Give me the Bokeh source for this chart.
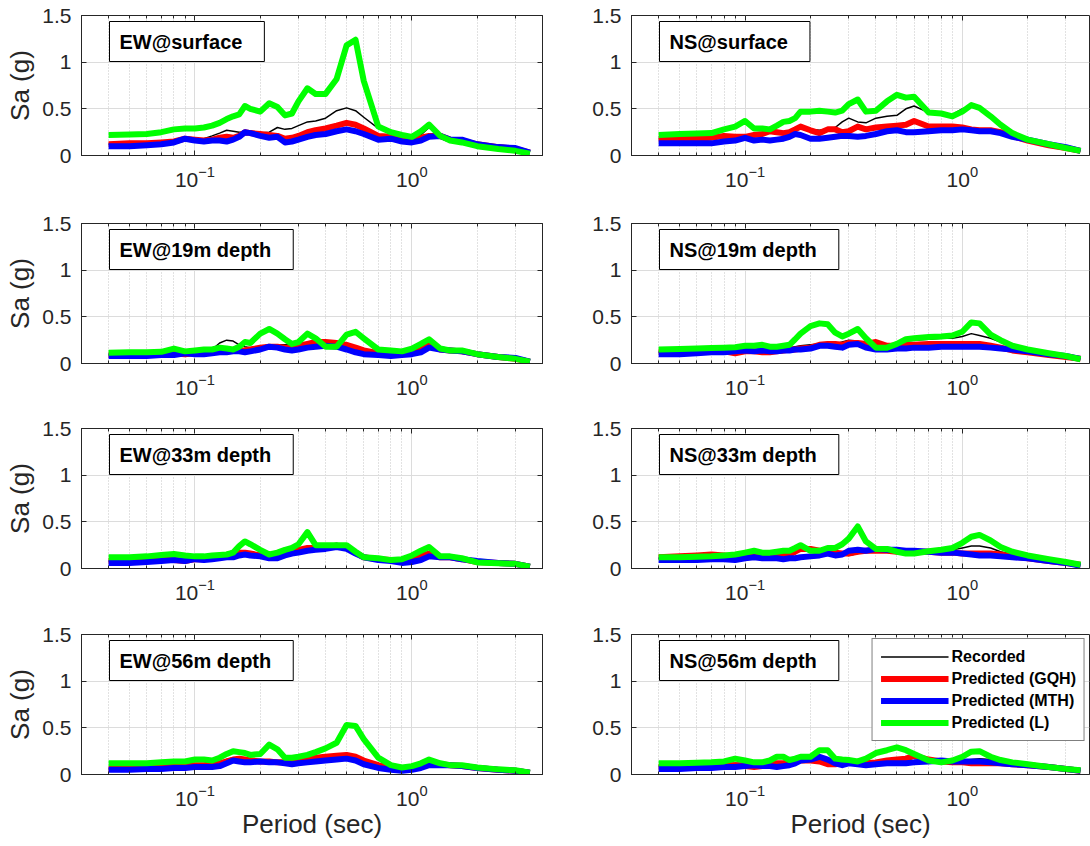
from bokeh.plotting import figure
from bokeh.layouts import column, row
from bokeh.models import (Range1d, FixedTicker, Label, Legend, LegendItem, LogAxis,
                          LinearAxis, NumeralTickFormatter, CustomJSTickFormatter)
from bokeh.embed import file_html
from bokeh.resources import INLINE

# Oscillator period (s)
period = [0.04, 0.05, 0.06, 0.07, 0.08, 0.09,
          0.10, 0.11, 0.12, 0.13, 0.14, 0.15, 0.16, 0.17, 0.18,
          0.20, 0.22, 0.24, 0.26, 0.28,
          0.30, 0.33, 0.36, 0.40, 0.45, 0.50, 0.55,
          0.60, 0.70, 0.80, 0.90,
          1.00, 1.10, 1.20, 1.35, 1.50, 1.70, 2.00, 2.50, 3.00, 3.50]

# --- EW @ surface ---
rec_ew_surf = [0.12, 0.13, 0.13, 0.14, 0.15, 0.17, 0.17, 0.18, 0.21, 0.24, 0.27, 0.26, 0.25, 0.25, 0.25,
               0.24, 0.25, 0.30, 0.28, 0.29, 0.32, 0.36, 0.37, 0.40, 0.48, 0.51, 0.48,
               0.41, 0.29, 0.25, 0.21, 0.19, 0.22, 0.30, 0.21, 0.17, 0.15, 0.11, 0.08, 0.06, 0.03]
gqh_ew_surf = [0.12, 0.13, 0.13, 0.14, 0.15, 0.18, 0.17, 0.16, 0.17, 0.19, 0.20, 0.19, 0.21, 0.25, 0.24,
               0.23, 0.22, 0.21, 0.18, 0.19, 0.21, 0.25, 0.27, 0.29, 0.32, 0.35, 0.33,
               0.29, 0.21, 0.20, 0.17, 0.17, 0.19, 0.21, 0.21, 0.17, 0.16, 0.12, 0.09, 0.07, 0.03]
mth_ew_surf = [0.10, 0.10, 0.11, 0.12, 0.14, 0.18, 0.16, 0.15, 0.16, 0.16, 0.15, 0.17, 0.20, 0.25, 0.24,
               0.21, 0.19, 0.20, 0.14, 0.15, 0.17, 0.20, 0.22, 0.23, 0.26, 0.28, 0.26,
               0.23, 0.17, 0.18, 0.15, 0.14, 0.16, 0.20, 0.21, 0.17, 0.17, 0.12, 0.09, 0.08, 0.03]
lin_ew_surf = [0.22, 0.225, 0.23, 0.25, 0.28, 0.29, 0.29, 0.30, 0.32, 0.35, 0.39, 0.42, 0.44, 0.53, 0.50,
               0.47, 0.56, 0.52, 0.43, 0.45, 0.58, 0.72, 0.66, 0.66, 0.82, 1.18, 1.24,
               0.80, 0.31, 0.25, 0.22, 0.20, 0.26, 0.33, 0.21, 0.16, 0.14, 0.10, 0.07, 0.05, 0.02]

# --- NS @ surface ---
rec_ns_surf = [0.18, 0.18, 0.19, 0.20, 0.21, 0.21, 0.21, 0.22, 0.24, 0.25, 0.24, 0.25, 0.26, 0.27, 0.30,
               0.28, 0.27, 0.28, 0.30, 0.36, 0.40, 0.36, 0.35, 0.40, 0.42, 0.43, 0.50,
               0.53, 0.46, 0.45, 0.44, 0.50, 0.52, 0.50, 0.42, 0.33, 0.24, 0.17, 0.12, 0.08, 0.05]
gqh_ns_surf = [0.18, 0.18, 0.18, 0.19, 0.21, 0.20, 0.20, 0.22, 0.23, 0.26, 0.25, 0.24, 0.25, 0.28, 0.31,
               0.27, 0.24, 0.28, 0.28, 0.25, 0.26, 0.31, 0.28, 0.30, 0.31, 0.32, 0.33,
               0.37, 0.31, 0.31, 0.31, 0.30, 0.28, 0.27, 0.27, 0.25, 0.21, 0.16, 0.11, 0.08, 0.05]
mth_ns_surf = [0.13, 0.13, 0.13, 0.13, 0.15, 0.16, 0.19, 0.16, 0.17, 0.16, 0.17, 0.18, 0.20, 0.23, 0.22,
               0.18, 0.18, 0.19, 0.20, 0.21, 0.21, 0.20, 0.21, 0.23, 0.26, 0.27, 0.25,
               0.25, 0.26, 0.27, 0.27, 0.28, 0.27, 0.26, 0.26, 0.24, 0.20, 0.17, 0.12, 0.09, 0.05]
lin_ns_surf = [0.22, 0.23, 0.235, 0.24, 0.28, 0.31, 0.37, 0.29, 0.29, 0.28, 0.32, 0.36, 0.37, 0.40, 0.47,
               0.47, 0.48, 0.47, 0.46, 0.48, 0.55, 0.60, 0.47, 0.48, 0.58, 0.65, 0.62,
               0.63, 0.46, 0.45, 0.42, 0.47, 0.54, 0.51, 0.42, 0.33, 0.24, 0.17, 0.12, 0.08, 0.05]

# --- EW @ 19 m ---
rec_ew_19 = [0.09, 0.10, 0.10, 0.11, 0.12, 0.12, 0.12, 0.13, 0.15, 0.22, 0.25, 0.24, 0.20, 0.18, 0.17,
             0.18, 0.20, 0.20, 0.20, 0.21, 0.20, 0.22, 0.22, 0.23, 0.22, 0.20, 0.17,
             0.15, 0.12, 0.12, 0.11, 0.13, 0.17, 0.20, 0.15, 0.14, 0.13, 0.10, 0.07, 0.05, 0.02]
gqh_ew_19 = [0.09, 0.09, 0.10, 0.10, 0.11, 0.10, 0.11, 0.11, 0.12, 0.13, 0.14, 0.14, 0.14, 0.14, 0.15,
             0.17, 0.18, 0.18, 0.17, 0.17, 0.19, 0.21, 0.23, 0.23, 0.22, 0.20, 0.17,
             0.14, 0.11, 0.11, 0.11, 0.13, 0.16, 0.20, 0.15, 0.14, 0.13, 0.10, 0.07, 0.05, 0.02]
mth_ew_19 = [0.08, 0.08, 0.08, 0.09, 0.09, 0.11, 0.10, 0.10, 0.11, 0.12, 0.12, 0.13, 0.13, 0.12, 0.13,
             0.15, 0.18, 0.17, 0.15, 0.14, 0.15, 0.17, 0.18, 0.19, 0.18, 0.15, 0.12,
             0.10, 0.09, 0.08, 0.09, 0.10, 0.12, 0.17, 0.15, 0.14, 0.13, 0.10, 0.07, 0.06, 0.02]
lin_ew_19 = [0.115, 0.12, 0.12, 0.125, 0.16, 0.13, 0.14, 0.15, 0.15, 0.17, 0.16, 0.15, 0.18, 0.23, 0.22,
             0.32, 0.37, 0.32, 0.26, 0.21, 0.23, 0.32, 0.27, 0.18, 0.18, 0.31, 0.34,
             0.27, 0.15, 0.14, 0.13, 0.16, 0.21, 0.26, 0.16, 0.14, 0.14, 0.10, 0.07, 0.05, 0.02]

# --- NS @ 19 m ---
rec_ns_19 = [0.12, 0.12, 0.13, 0.13, 0.14, 0.13, 0.14, 0.14, 0.15, 0.15, 0.15, 0.16, 0.17, 0.18, 0.19,
             0.20, 0.21, 0.21, 0.21, 0.23, 0.25, 0.24, 0.20, 0.19, 0.19, 0.22, 0.24,
             0.25, 0.26, 0.27, 0.27, 0.29, 0.32, 0.30, 0.27, 0.23, 0.18, 0.14, 0.10, 0.08, 0.05]
gqh_ns_19 = [0.12, 0.13, 0.13, 0.15, 0.13, 0.11, 0.13, 0.13, 0.12, 0.12, 0.13, 0.14, 0.15, 0.15, 0.16,
             0.17, 0.20, 0.21, 0.21, 0.20, 0.22, 0.22, 0.21, 0.23, 0.19, 0.19, 0.20,
             0.20, 0.21, 0.21, 0.21, 0.21, 0.21, 0.21, 0.19, 0.17, 0.14, 0.12, 0.09, 0.07, 0.05]
mth_ns_19 = [0.10, 0.10, 0.11, 0.12, 0.12, 0.13, 0.14, 0.13, 0.14, 0.13, 0.13, 0.14, 0.14, 0.15, 0.15,
             0.16, 0.19, 0.19, 0.18, 0.17, 0.20, 0.21, 0.17, 0.15, 0.15, 0.16, 0.16,
             0.17, 0.17, 0.18, 0.18, 0.18, 0.18, 0.18, 0.17, 0.16, 0.15, 0.13, 0.10, 0.08, 0.05]
lin_ns_19 = [0.15, 0.155, 0.16, 0.165, 0.17, 0.175, 0.19, 0.19, 0.20, 0.18, 0.18, 0.19, 0.20, 0.26, 0.32,
             0.40, 0.43, 0.42, 0.33, 0.29, 0.32, 0.37, 0.27, 0.17, 0.17, 0.21, 0.26,
             0.27, 0.285, 0.29, 0.30, 0.34, 0.44, 0.43, 0.31, 0.25, 0.19, 0.15, 0.11, 0.08, 0.045]

# --- EW @ 33 m ---
rec_ew_33 = [0.08, 0.08, 0.09, 0.10, 0.10, 0.10, 0.10, 0.11, 0.12, 0.14, 0.17, 0.19, 0.18, 0.17, 0.16,
             0.14, 0.13, 0.14, 0.16, 0.18, 0.20, 0.22, 0.23, 0.25, 0.27, 0.24, 0.18,
             0.13, 0.10, 0.09, 0.08, 0.11, 0.15, 0.16, 0.12, 0.12, 0.10, 0.07, 0.05, 0.05, 0.02]
gqh_ew_33 = [0.08, 0.08, 0.09, 0.09, 0.09, 0.08, 0.10, 0.10, 0.11, 0.12, 0.13, 0.15, 0.17, 0.17, 0.16,
             0.14, 0.12, 0.13, 0.15, 0.18, 0.20, 0.22, 0.22, 0.23, 0.24, 0.23, 0.17,
             0.12, 0.10, 0.09, 0.08, 0.10, 0.14, 0.16, 0.12, 0.12, 0.10, 0.07, 0.06, 0.05, 0.02]
mth_ew_33 = [0.06, 0.06, 0.07, 0.08, 0.09, 0.08, 0.10, 0.09, 0.10, 0.11, 0.12, 0.12, 0.14, 0.15, 0.14,
             0.13, 0.11, 0.11, 0.14, 0.16, 0.17, 0.19, 0.20, 0.21, 0.23, 0.21, 0.16,
             0.12, 0.09, 0.08, 0.06, 0.07, 0.09, 0.13, 0.12, 0.12, 0.10, 0.08, 0.06, 0.05, 0.02]
lin_ew_33 = [0.12, 0.12, 0.13, 0.145, 0.155, 0.14, 0.13, 0.13, 0.14, 0.145, 0.15, 0.17, 0.24, 0.29, 0.26,
             0.20, 0.15, 0.17, 0.20, 0.22, 0.26, 0.39, 0.25, 0.25, 0.25, 0.25, 0.18,
             0.12, 0.11, 0.09, 0.10, 0.14, 0.19, 0.23, 0.13, 0.13, 0.11, 0.065, 0.055, 0.05, 0.02]

# --- NS @ 33 m ---
rec_ns_33 = [0.11, 0.12, 0.12, 0.13, 0.13, 0.13, 0.14, 0.15, 0.15, 0.15, 0.15, 0.16, 0.17, 0.19, 0.21,
             0.21, 0.19, 0.18, 0.16, 0.15, 0.14, 0.16, 0.18, 0.19, 0.19, 0.18, 0.18,
             0.18, 0.18, 0.19, 0.20, 0.22, 0.24, 0.24, 0.22, 0.18, 0.15, 0.13, 0.10, 0.07, 0.04]
gqh_ns_33 = [0.12, 0.13, 0.14, 0.15, 0.14, 0.13, 0.14, 0.15, 0.14, 0.13, 0.14, 0.14, 0.15, 0.18, 0.21,
             0.21, 0.19, 0.18, 0.17, 0.16, 0.16, 0.18, 0.19, 0.19, 0.19, 0.18, 0.18,
             0.18, 0.18, 0.17, 0.17, 0.16, 0.16, 0.16, 0.16, 0.15, 0.13, 0.11, 0.08, 0.06, 0.04]
mth_ns_33 = [0.09, 0.09, 0.09, 0.10, 0.10, 0.09, 0.11, 0.12, 0.11, 0.11, 0.11, 0.10, 0.11, 0.11, 0.12,
             0.13, 0.14, 0.16, 0.14, 0.15, 0.19, 0.20, 0.19, 0.21, 0.20, 0.20, 0.19,
             0.19, 0.18, 0.17, 0.17, 0.16, 0.15, 0.14, 0.14, 0.13, 0.12, 0.11, 0.08, 0.06, 0.03]
lin_ns_33 = [0.12, 0.12, 0.125, 0.13, 0.14, 0.15, 0.17, 0.19, 0.17, 0.17, 0.18, 0.19, 0.19, 0.22, 0.25,
             0.19, 0.19, 0.22, 0.22, 0.26, 0.32, 0.45, 0.29, 0.21, 0.21, 0.18, 0.16,
             0.16, 0.185, 0.20, 0.22, 0.275, 0.34, 0.36, 0.30, 0.23, 0.18, 0.14, 0.10, 0.07, 0.04]

# --- EW @ 56 m ---
rec_ew_56 = [0.06, 0.06, 0.07, 0.08, 0.09, 0.09, 0.10, 0.11, 0.12, 0.13, 0.16, 0.18, 0.18, 0.16, 0.15,
             0.14, 0.14, 0.14, 0.14, 0.13, 0.14, 0.16, 0.19, 0.21, 0.21, 0.20, 0.18,
             0.14, 0.10, 0.07, 0.06, 0.07, 0.10, 0.13, 0.11, 0.10, 0.09, 0.07, 0.05, 0.04, 0.02]
gqh_ew_56 = [0.06, 0.06, 0.07, 0.08, 0.09, 0.09, 0.10, 0.10, 0.11, 0.12, 0.14, 0.16, 0.17, 0.16, 0.15,
             0.14, 0.14, 0.13, 0.13, 0.13, 0.14, 0.16, 0.18, 0.19, 0.20, 0.21, 0.19,
             0.15, 0.10, 0.07, 0.06, 0.07, 0.10, 0.13, 0.11, 0.10, 0.09, 0.07, 0.05, 0.04, 0.02]
mth_ew_56 = [0.05, 0.05, 0.06, 0.06, 0.07, 0.07, 0.08, 0.08, 0.08, 0.09, 0.12, 0.15, 0.14, 0.13, 0.13,
             0.14, 0.13, 0.13, 0.12, 0.11, 0.12, 0.13, 0.14, 0.15, 0.16, 0.17, 0.15,
             0.11, 0.07, 0.05, 0.04, 0.05, 0.07, 0.10, 0.10, 0.10, 0.09, 0.07, 0.05, 0.04, 0.02]
lin_ew_56 = [0.12, 0.12, 0.12, 0.13, 0.14, 0.14, 0.16, 0.16, 0.15, 0.18, 0.22, 0.25, 0.24, 0.23, 0.21,
             0.22, 0.32, 0.27, 0.18, 0.18, 0.19, 0.21, 0.24, 0.28, 0.34, 0.53, 0.52,
             0.38, 0.18, 0.10, 0.075, 0.09, 0.12, 0.16, 0.12, 0.10, 0.10, 0.075, 0.055, 0.045, 0.02]

# --- NS @ 56 m ---
rec_ns_56 = [0.09, 0.09, 0.10, 0.10, 0.11, 0.12, 0.12, 0.11, 0.11, 0.12, 0.13, 0.13, 0.14, 0.15, 0.16,
             0.16, 0.18, 0.17, 0.14, 0.16, 0.17, 0.14, 0.13, 0.14, 0.15, 0.15, 0.17,
             0.18, 0.16, 0.15, 0.14, 0.15, 0.16, 0.17, 0.16, 0.14, 0.13, 0.11, 0.08, 0.06, 0.04]
gqh_ns_56 = [0.08, 0.08, 0.09, 0.09, 0.10, 0.10, 0.09, 0.08, 0.09, 0.11, 0.12, 0.12, 0.13, 0.14, 0.15,
             0.15, 0.14, 0.11, 0.11, 0.12, 0.13, 0.13, 0.12, 0.13, 0.15, 0.16, 0.17,
             0.20, 0.16, 0.14, 0.13, 0.13, 0.12, 0.12, 0.12, 0.12, 0.11, 0.10, 0.08, 0.06, 0.04]
mth_ns_56 = [0.06, 0.06, 0.07, 0.07, 0.08, 0.08, 0.09, 0.10, 0.09, 0.09, 0.08, 0.09, 0.10, 0.12, 0.15,
             0.16, 0.19, 0.16, 0.12, 0.10, 0.12, 0.11, 0.10, 0.11, 0.12, 0.12, 0.12,
             0.13, 0.14, 0.15, 0.14, 0.14, 0.14, 0.14, 0.13, 0.12, 0.11, 0.10, 0.08, 0.06, 0.04]
lin_ns_56 = [0.12, 0.12, 0.125, 0.13, 0.14, 0.17, 0.15, 0.13, 0.13, 0.15, 0.19, 0.19, 0.155, 0.17, 0.19,
             0.19, 0.26, 0.26, 0.17, 0.16, 0.155, 0.14, 0.17, 0.23, 0.26, 0.29, 0.26,
             0.22, 0.15, 0.13, 0.15, 0.19, 0.245, 0.25, 0.19, 0.155, 0.13, 0.11, 0.08, 0.06, 0.045]

panel_titles = [["EW@surface", "NS@surface"],
                ["EW@19m depth", "NS@19m depth"],
                ["EW@33m depth", "NS@33m depth"],
                ["EW@56m depth", "NS@56m depth"]]
panel_data = [[(rec_ew_surf, gqh_ew_surf, mth_ew_surf, lin_ew_surf),
               (rec_ns_surf, gqh_ns_surf, mth_ns_surf, lin_ns_surf)],
              [(rec_ew_19, gqh_ew_19, mth_ew_19, lin_ew_19),
               (rec_ns_19, gqh_ns_19, mth_ns_19, lin_ns_19)],
              [(rec_ew_33, gqh_ew_33, mth_ew_33, lin_ew_33),
               (rec_ns_33, gqh_ns_33, mth_ns_33, lin_ns_33)],
              [(rec_ew_56, gqh_ew_56, mth_ew_56, lin_ew_56),
               (rec_ns_56, gqh_ns_56, mth_ns_56, lin_ns_56)]]

series_names = ["Recorded", "Predicted (GQH)", "Predicted (MTH)", "Predicted (L)"]
series_colors = ["#000000", "#ff0000", "#0000ff", "#00ff00"]
series_widths = [1.5, 6, 6, 6]

y_ticks = [0, 0.5, 1, 1.5]
x_major = [0.1, 1.0]
x_minor = [m * 10.0 ** k for k in (-2, -1, 0) for m in range(2, 10) if 0.03 <= m * 10.0 ** k <= 4]

FONT = "Liberation Sans"
INK = "#262626"

row_heights = [207, 206, 206, 227]
row_tops = [15, 16, 15, 15]
FRAME_H = 140


def style_axis(ax):
    ax.axis_line_color = INK
    ax.major_tick_line_color = INK
    ax.minor_tick_line_color = INK
    ax.major_tick_in = 5
    ax.major_tick_out = 0
    ax.minor_tick_in = 3
    ax.minor_tick_out = 0
    ax.major_label_text_font = FONT
    ax.major_label_text_font_size = "21px"
    ax.major_label_text_color = INK
    ax.axis_label_text_font = FONT
    ax.axis_label_text_font_size = "26px"
    ax.axis_label_text_font_style = "normal"
    ax.axis_label_text_color = INK


def blank_axis(ax):
    ax.formatter = CustomJSTickFormatter(code="return ''")
    ax.major_label_text_font_size = "0px"
    ax.major_label_standoff = 0
    ax.axis_line_color = None


def make_panel(r, c):
    left = c == 0
    h = row_heights[r]
    top = row_tops[r]
    p = figure(width=586 if left else 504, height=h,
               x_axis_type="log",
               x_range=Range1d(0.03, 4.0 if left else 3.85),
               y_range=Range1d(0, 1.5),
               min_border_left=81 if left else 45,
               min_border_right=44 if left else 1,
               min_border_top=top,
               min_border_bottom=h - top - FRAME_H,
               output_backend="svg", toolbar_location=None)
    p.outline_line_color = INK
    p.outline_line_width = 1
    p.background_fill_color = "white"
    p.border_fill_color = "white"

    xticker = FixedTicker(ticks=x_major, minor_ticks=x_minor)
    yticker = FixedTicker(ticks=y_ticks)

    xa = p.xaxis[0]
    xa.ticker = xticker
    style_axis(xa)
    xa.major_label_standoff = 10
    ya = p.yaxis[0]
    ya.ticker = yticker
    ya.formatter = NumeralTickFormatter(format="0.[0]")
    style_axis(ya)
    ya.major_label_standoff = 10
    if left:
        ya.axis_label = "Sa (g)"
        ya.axis_label_standoff = 4
    if r == 3:
        xa.axis_label = "Period (sec)"
        xa.axis_label_standoff = 0

    top_ax = LogAxis(ticker=xticker)
    style_axis(top_ax)
    blank_axis(top_ax)
    p.add_layout(top_ax, "above")
    if left:
        right_ax = LinearAxis(ticker=yticker)
        style_axis(right_ax)
        blank_axis(right_ax)
        p.add_layout(right_ax, "right")

    p.xgrid.ticker = xticker
    p.ygrid.ticker = yticker
    p.xgrid.grid_line_color = "#dcdcdc"
    p.ygrid.grid_line_color = "#dcdcdc"
    p.xgrid.minor_grid_line_color = "#c4c4c4"
    p.xgrid.minor_grid_line_dash = "1 2"

    renderers = []
    for vals, col, lw in zip(panel_data[r][c], series_colors, series_widths):
        renderers.append(p.line(period, vals, line_color=col, line_width=lw, line_join="round"))

    p.add_layout(Label(x=28, y=FRAME_H - 6, x_units="screen", y_units="screen",
                       text=panel_titles[r][c], text_font=FONT, text_font_style="bold",
                       text_font_size="20px", text_color="black",
                       text_align="left", text_baseline="top",
                       border_line_color="black", border_line_width=1,
                       background_fill_color="white",
                       padding=dict(left=10, right=22, top=9, bottom=9)))

    if r == 3 and c == 1:
        legend = Legend(items=[LegendItem(label=n, renderers=[rr])
                               for n, rr in zip(series_names, renderers)],
                        location="top_right", margin=4, padding=8,
                        glyph_width=68, glyph_height=19, label_height=19,
                        spacing=3, label_standoff=3,
                        label_text_font=FONT, label_text_font_style="bold",
                        label_text_font_size="16px", label_text_color="black",
                        border_line_color="black", border_line_width=1,
                        background_fill_color="white", background_fill_alpha=1)
        p.add_layout(legend)
    return p


rows = [row(make_panel(r, 0), make_panel(r, 1)) for r in range(4)]
layout = column(*rows)

open("out.html", "w").write(file_html(layout, INLINE))
